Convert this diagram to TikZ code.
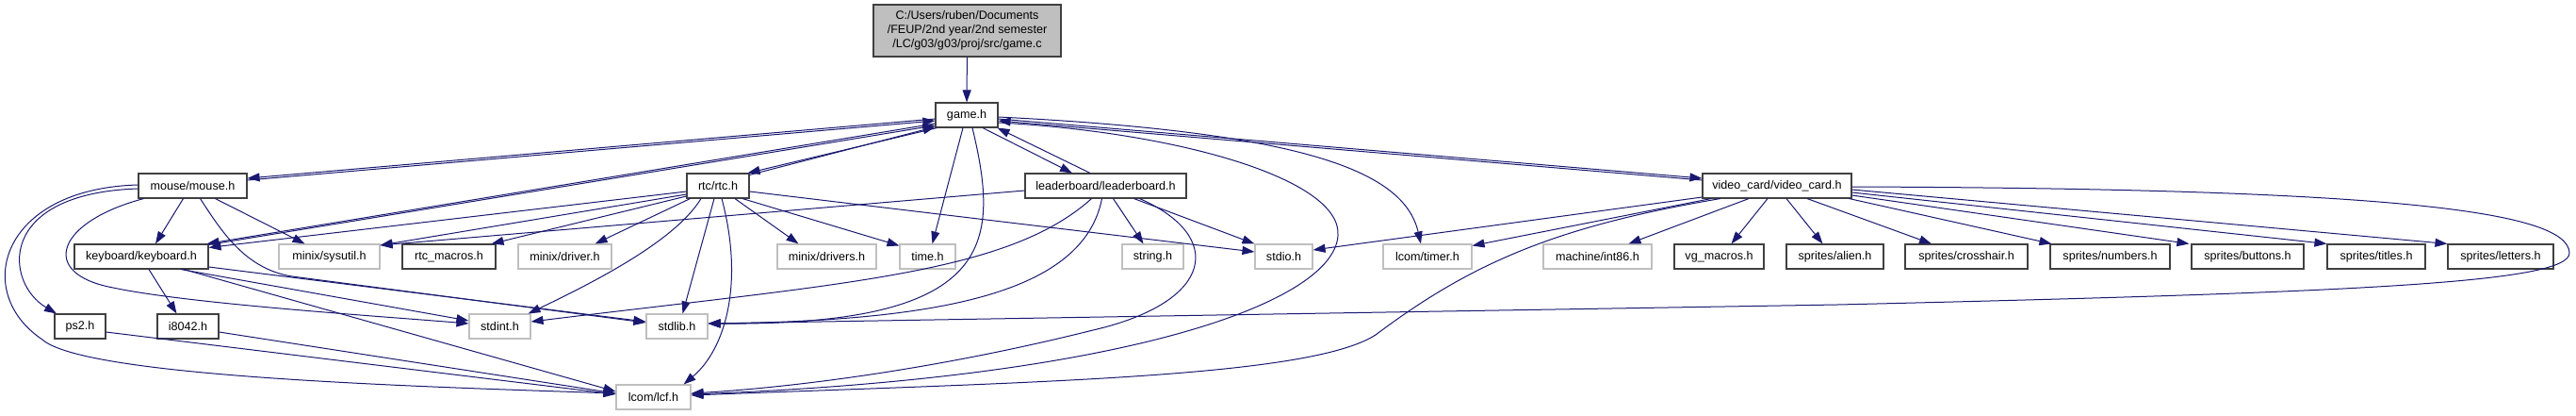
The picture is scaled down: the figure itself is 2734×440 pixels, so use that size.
\documentclass[tikz,border=0pt]{standalone}
\usepackage{fontspec}
\setmainfont{Liberation Sans}
\usetikzlibrary{arrows.meta, positioning}
\definecolor{edgeblue}{HTML}{191970}
\definecolor{lightframe}{HTML}{BFBFBF}

\begin{document}
\begin{tikzpicture}[x=1pt, y=-1pt,
    hdr/.style={draw=black!75, fill=white, line width=1.1pt, minimum height=26pt,
      inner sep=0pt, font=\fontsize{12.6}{15}\selectfont},
    syshdr/.style={hdr, draw=lightframe},
    inc/.style={edgeblue, line width=1pt, -{Triangle[length=13pt, width=9pt]}}]
  \useasboundingbox (0,0) rectangle (2734,440);

  % Source file and its header
  \node[hdr, fill=lightframe, minimum width=199pt, minimum height=55pt, align=center] (gamec) at (1026.5,32.5)
    {C:/Users/ruben/Documents\\/FEUP/2nd year/2nd semester\\/LC/g03/g03/proj/src/game.c};
  \node[hdr, minimum width=66pt] (gameh) at (1026,122) {game.h};

  % Project headers
  \node[hdr, minimum width=115pt] (mouse) at (204.5,197) {mouse/mouse.h};
  \node[hdr, minimum width=66pt] (rtc) at (762,197) {rtc/rtc.h};
  \node[hdr, minimum width=171pt] (leader) at (1173.5,197) {leaderboard/leaderboard.h};
  \node[hdr, minimum width=158pt] (video) at (1886,197) {video\_card/video\_card.h};

  % Third row
  \node[hdr, minimum width=142pt] (kbd) at (150,272) {keyboard/keyboard.h};
  \node[syshdr, minimum width=107pt] (sysutil) at (349.5,272) {minix/sysutil.h};
  \node[hdr, minimum width=99pt] (rtcmacros) at (476.5,272) {rtc\_macros.h};
  \node[syshdr, minimum width=99pt] (driver) at (599.5,272) {minix/driver.h};
  \node[syshdr, minimum width=105pt] (drivers) at (877.5,272) {minix/drivers.h};
  \node[syshdr, minimum width=59pt] (time) at (984.5,272) {time.h};
  \node[syshdr, minimum width=65pt] (string) at (1223.5,272) {string.h};
  \node[syshdr, minimum width=61pt] (stdio) at (1362.5,272) {stdio.h};
  \node[syshdr, minimum width=94pt] (timer) at (1515,272) {lcom/timer.h};
  \node[syshdr, minimum width=115pt] (int86) at (1695.5,272) {machine/int86.h};
  \node[hdr, minimum width=95pt] (vgmacros) at (1824.5,272) {vg\_macros.h};
  \node[hdr, minimum width=103pt] (alien) at (1947.5,272) {sprites/alien.h};
  \node[hdr, minimum width=130pt] (crosshair) at (2087,272) {sprites/crosshair.h};
  \node[hdr, minimum width=127pt] (numbers) at (2239.5,272) {sprites/numbers.h};
  \node[hdr, minimum width=119pt] (buttons) at (2385.5,272) {sprites/buttons.h};
  \node[hdr, minimum width=104pt] (titles) at (2522,272) {sprites/titles.h};
  \node[hdr, minimum width=112pt] (letters) at (2654,272) {sprites/letters.h};

  % Fourth and fifth rows
  \node[hdr, minimum width=54pt] (ps2) at (85,346) {ps2.h};
  \node[hdr, minimum width=65pt] (i8042) at (199.5,346) {i8042.h};
  \node[syshdr, minimum width=65pt] (stdint) at (530.5,346) {stdint.h};
  \node[syshdr, minimum width=65pt] (stdlib) at (718.5,346) {stdlib.h};
  \node[syshdr, minimum width=79pt] (lcf) at (693.5,421) {lcom/lcf.h};

  % game.c / game.h
  \draw[inc] (gamec) -- (gameh);
  \draw[inc] ([yshift=-4pt]gameh.west) -- ([yshift=8pt]mouse.east);
  \draw[inc] ([yshift=6pt]mouse.east) -- ([yshift=-6pt]gameh.west);
  \draw[inc] ([yshift=-9pt]gameh.west) -- ([xshift=-2pt]kbd.north east);
  \draw[inc] ([yshift=-1pt]kbd.north east) -- ([yshift=-11pt]gameh.west);
  \draw[inc] ([xshift=2pt]gameh.south west) -- ([xshift=-2pt]rtc.north east);
  \draw[inc] ([yshift=-2pt]rtc.north east) -- ([yshift=1pt]gameh.south west);
  \draw[inc] ([xshift=17pt]gameh.south) -- ([xshift=-35.5pt]leader.north);
  \draw[inc] ([xshift=-16.5pt]leader.north) -- ([xshift=-1pt]gameh.south east);
  \draw[inc] ([yshift=-4pt]gameh.east) -- ([yshift=8pt]video.west);
  \draw[inc] ([yshift=6pt]video.west) -- ([yshift=-6pt]gameh.east);
  \draw[inc] ([xshift=-4pt]gameh.south) -- ([xshift=5pt]time.north);
  \draw[inc] ([xshift=6pt]gameh.south) .. controls (1062,260) and (1055,345) .. ([yshift=3pt]stdlib.east);
  \draw[inc] ([yshift=-2pt]gameh.east) .. controls (1380,140) and (1490,180) .. ([xshift=-7pt]timer.north);
  \draw[inc] ([yshift=-8pt]gameh.east) .. controls (1250,140) and (1425,190) .. (1420,250)
    .. controls (1415,320) and (1200,400) .. ([yshift=3pt]lcf.east);

  % mouse.h
  \draw[inc] ([xshift=-10pt]mouse.south) -- ([xshift=15pt]kbd.north);
  \draw[inc] ([xshift=24pt]mouse.south) -- ([xshift=-26pt]sysutil.north);
  \draw[inc] ([xshift=8pt]mouse.south) .. controls (235,245) and (260,285) .. (310,293) -- ([yshift=4pt]stdlib.west);
  \draw[inc] ([xshift=-52pt]mouse.south) .. controls (60,235) and (40,290) .. (120,305)
    .. controls (200,322) and (400,335) .. ([yshift=3pt]stdint.west);
  \draw[inc] ([yshift=-3pt]mouse.west) .. controls (-5,205) and (5,300) .. ([xshift=-25pt]ps2.north);
  \draw[inc] ([yshift=1pt]mouse.west) .. controls (0,200) and (-30,310) .. (45,360)
    .. controls (90,400) and (450,410) .. ([yshift=4pt]lcf.west);

  % keyboard.h, ps2.h, i8042.h
  \draw[inc] ([xshift=8pt]kbd.south) -- ([xshift=-12pt]i8042.north);
  \draw[inc] ([xshift=42pt]kbd.south) -- ([yshift=6pt]stdint.west);
  \draw[inc] ([yshift=-11pt]kbd.east) -- ([yshift=5pt]stdlib.west);
  \draw[inc] ([xshift=45pt]kbd.south) -- ([yshift=6pt]lcf.west);
  \draw[inc] ([yshift=-6pt]ps2.east) -- ([yshift=3pt]lcf.west);
  \draw[inc] ([yshift=-6pt]i8042.east) -- ([yshift=4pt]lcf.west);

  % rtc.h
  \draw[inc] ([yshift=-6pt]rtc.west) -- ([yshift=-4pt]kbd.north east);
  \draw[inc] ([yshift=-9pt]rtc.west) -- ([yshift=12pt]sysutil.east);
  \draw[inc] ([yshift=-11pt]rtc.west) -- ([xshift=-5pt]rtcmacros.north east);
  \draw[inc] ([xshift=4pt]rtc.south west) -- ([xshift=-18pt]driver.north east);
  \draw[inc] ([xshift=18pt]rtc.south) -- ([xshift=-30pt]drivers.north);
  \draw[inc] ([xshift=26pt]rtc.south) -- ([yshift=-2pt]time.north west);
  \draw[inc] ([yshift=-6pt]rtc.east) -- ([yshift=5pt]stdio.west);
  \draw[inc] ([xshift=-18pt]rtc.south) .. controls (720,250) and (650,290) .. ([xshift=-3pt]stdint.north east);
  \draw[inc] ([xshift=-4pt]rtc.south) -- ([xshift=6pt]stdlib.north);
  \draw[inc] ([xshift=4pt]rtc.south) .. controls (790,300) and (770,370) .. ([xshift=-8pt]lcf.north east);

  % leaderboard.h
  \draw[inc] ([yshift=-5pt]leader.west) -- ([yshift=12pt]sysutil.east);
  \draw[inc] ([xshift=-15pt]leader.south) .. controls (1070,290) and (900,300) .. ([yshift=5pt]stdint.east);
  \draw[inc] ([xshift=-4pt]leader.south) .. controls (1150,310) and (1000,340) .. ([yshift=3pt]stdlib.east);
  \draw[inc] ([xshift=8pt]leader.south) -- ([xshift=-10pt]string.north);
  \draw[inc] ([xshift=30pt]leader.south) -- (stdio.north west);
  \draw[inc] ([xshift=36pt]leader.south) .. controls (1300,250) and (1290,320) .. (1160,350)
    .. controls (1000,390) and (850,410) .. ([yshift=4pt]lcf.east);

  % video_card.h
  \draw[inc] ([yshift=-12pt]video.west) -- ([yshift=7pt]stdio.east);
  \draw[inc] ([xshift=-70pt]video.south) -- ([yshift=-2pt]timer.north east);
  \draw[inc] ([xshift=-60pt]video.south) .. controls (1650,240) and (1560,280) .. (1460,355)
    .. controls (1390,400) and (1100,405) .. ([yshift=2pt]lcf.east);
  \draw[inc] ([xshift=-30pt]video.south) -- ([xshift=33pt]int86.north);
  \draw[inc] ([xshift=-10pt]video.south) -- ([xshift=13pt]vgmacros.north);
  \draw[inc] ([xshift=10pt]video.south) -- ([xshift=-13pt]alien.north);
  \draw[inc] ([xshift=32pt]video.south) -- ([xshift=-37pt]crosshair.north);
  \draw[inc] ([xshift=-3pt]video.south east) -- ([xshift=2pt]numbers.north west);
  \draw[inc] ([yshift=-10pt]video.east) -- ([xshift=-2pt]buttons.north west);
  \draw[inc] ([yshift=-7pt]video.east) -- (titles.north west);
  \draw[inc] ([yshift=-4pt]video.east) -- (letters.north west);
  \draw[inc] ([yshift=-1pt]video.east) .. controls (2550,200) and (2725,225) .. (2727,268)
    .. controls (2728,300) and (2500,310) .. (1950,323) -- ([yshift=3pt]stdlib.east);
\end{tikzpicture}
\end{document}
